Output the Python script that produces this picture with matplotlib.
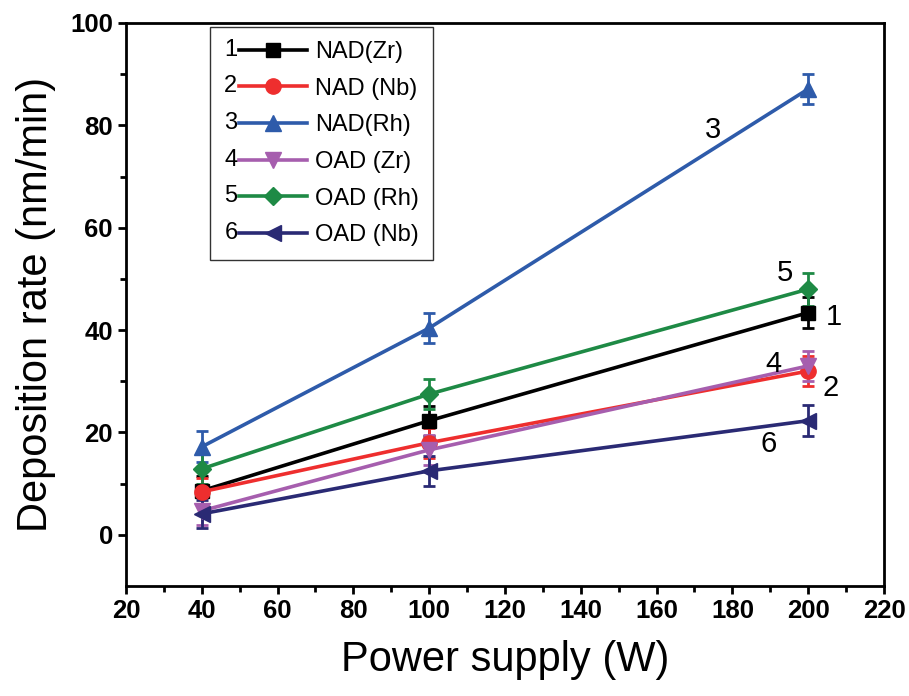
import matplotlib
matplotlib.use("Agg")
import matplotlib.pyplot as plt
from matplotlib.legend_handler import HandlerLine2D
from matplotlib.text import Text

plt.rcParams['font.family'] = ['Liberation Sans', 'DejaVu Sans']

# dados
potencia = [40, 100, 200]
nad_zr = [8.6, 22.3, 43.4]
nad_nb = [8.4, 18.0, 32.0]
nad_rh = [17.2, 40.4, 87.1]
oad_zr = [4.7, 16.6, 33.0]
oad_rh = [12.9, 27.5, 48.0]
oad_nb = [4.1, 12.5, 22.3]

err_nad_zr = [2.8, 2.9, 3.0]
err_nad_nb = [2.8, 2.9, 3.0]
err_nad_rh = [3.0, 3.0, 2.9]
err_oad_zr = [2.8, 2.9, 3.0]
err_oad_rh = [2.9, 3.0, 3.2]
err_oad_nb = [2.8, 3.0, 3.0]

nomes = ['NAD(Zr)', 'NAD (Nb)', 'NAD(Rh)', 'OAD (Zr)', 'OAD (Rh)', 'OAD (Nb)']
numeros = ['1', '2', '3', '4', '5', '6']
series = [nad_zr, nad_nb, nad_rh, oad_zr, oad_rh, oad_nb]
erros = [err_nad_zr, err_nad_nb, err_nad_rh, err_oad_zr, err_oad_rh, err_oad_nb]
cores = ['#000000', '#EE2E2E', '#2E5BAA', '#A65EAE', '#1E8A45', '#2A2A74']
marcadores = ['s', 'o', '^', 'v', 'D', '<']
tamanhos = [10, 11, 11, 11, 9, 11]

# rótulos numéricos ao lado das curvas
rotulos_x = [206.7, 206.0, 175.0, 190.9, 193.8, 189.5]
rotulos_y = [42.6, 28.7, 79.0, 33.4, 51.2, 17.8]


class HandlerNumerado(HandlerLine2D):
    # coloca o número antes da linha na legenda
    def __init__(self, numero, **kw):
        super().__init__(**kw)
        self.numero = numero

    def create_artists(self, legend, orig_handle, xdescent, ydescent,
                       width, height, fontsize, trans):
        desloc = 0.62 * fontsize
        artistas = super().create_artists(legend, orig_handle, xdescent - desloc,
                                          ydescent, width - desloc, height,
                                          fontsize, trans)
        t = Text(-xdescent, height / 2 - ydescent, self.numero, ha='left',
                 va='center', fontsize=fontsize, transform=trans)
        return list(artistas) + [t]


fig = plt.figure(figsize=(9.09, 6.96), dpi=100)
ax = fig.add_axes([0.1386, 0.158, 0.9725 - 0.1386, 0.967 - 0.158])

handles = []
for y, e, cor, m, ms, nome in zip(series, erros, cores, marcadores, tamanhos, nomes):
    h = ax.errorbar(potencia, y, yerr=e, color=cor, marker=m, markersize=ms,
                    linewidth=2.6, elinewidth=2.0, capsize=4.5, capthick=2.0,
                    label=nome)
    handles.append(h)

for n, x, y in zip(numeros, rotulos_x, rotulos_y):
    ax.text(x, y, n, fontsize=21, ha='center', va='center')

ax.set_xlim(20, 220)
ax.set_ylim(-10, 100)
ax.set_xticks(range(20, 221, 20))
ax.set_yticks(range(0, 101, 20))
ax.set_xticks(range(30, 220, 20), minor=True)
ax.set_yticks(range(10, 100, 20), minor=True)
ax.tick_params(which='major', direction='out', length=6, width=2, labelsize=18.5)
ax.tick_params(which='minor', direction='out', length=4, width=2)
for lab in ax.get_xticklabels() + ax.get_yticklabels():
    lab.set_fontweight('bold')
for s in ax.spines.values():
    s.set_linewidth(2)

ax.set_xlabel('Power supply (W)', fontsize=30, labelpad=12)
ax.set_ylabel('Deposition rate (nm/min)', fontsize=30, labelpad=10)

linhas = [h.lines[0] for h in handles]
mapa = {l: HandlerNumerado(n) for l, n in zip(linhas, numeros)}
leg = ax.legend(linhas, nomes, loc='upper left', bbox_to_anchor=(0.111, 0.993),
                borderaxespad=0, fontsize=17, handlelength=3.5, handletextpad=0.35,
                labelspacing=0.62, borderpad=0.6, fancybox=False,
                edgecolor='#333333', framealpha=1, handler_map=mapa)
leg.get_frame().set_linewidth(1.0)

plt.savefig('out.png', dpi=100)
